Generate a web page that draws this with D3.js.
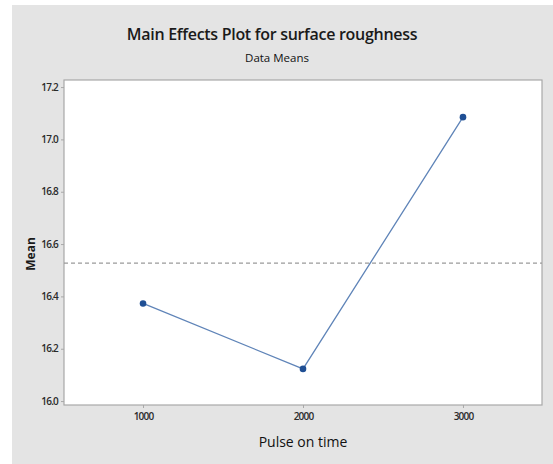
<!DOCTYPE html>
<html>
<head>
<meta charset="utf-8">
<script src="https://cdn.jsdelivr.net/npm/d3@7"></script>
<style>
  html, body { margin: 0; padding: 0; background: #ffffff; }
  svg { display: block; }
</style>
</head>
<body>
<div id="chart"></div>
<script>
// Main effects of pulse-on time on surface roughness (data means)
const levels = [1000, 2000, 3000];
const means = [16.373, 16.123, 17.085];
const yTicks = [16.0, 16.2, 16.4, 16.6, 16.8, 17.0, 17.2];
const xTicks = [1000, 2000, 3000];

const W = 553, H = 464;
const plot = { left: 64, top: 80, right: 542, bottom: 405 };

const svg = d3.select("#chart").append("svg")
  .attr("width", W).attr("height", H);

// panel background
svg.append("rect")
  .attr("x", 12).attr("y", 5)
  .attr("width", W - 12).attr("height", H - 5)
  .attr("fill", "#e4e4e4");

const x = d3.scaleLinear().domain([506, 3494]).range([plot.left, plot.right]);
const y = d3.scaleLinear().domain([15.985, 17.227]).range([plot.bottom, plot.top]);

// plotting area
svg.append("rect")
  .attr("x", plot.left).attr("y", plot.top)
  .attr("width", plot.right - plot.left).attr("height", plot.bottom - plot.top)
  .attr("fill", "#ffffff")
  .attr("stroke", "#a8a8a8").attr("stroke-width", 1.2);

// axes
const fmtY = d3.format(".1f");
const yAxis = svg.append("g")
  .attr("transform", `translate(${plot.left},0)`)
  .call(d3.axisLeft(y).tickValues(yTicks).tickFormat(fmtY).tickSize(3).tickPadding(3));
const xAxis = svg.append("g")
  .attr("transform", `translate(0,${plot.bottom})`)
  .call(d3.axisBottom(x).tickValues(xTicks).tickFormat(d3.format("d")).tickSize(3).tickPadding(5));

[yAxis, xAxis].forEach(g => {
  g.select(".domain").remove();
  g.selectAll(".tick line").attr("stroke", "#a8a8a8");
  g.selectAll(".tick text")
    .attr("fill", "#2a2a2a")
    .style("font-family", "'Open Sans', sans-serif")
    .style("font-size", "10px")
    .style("font-weight", "600")
    .style("letter-spacing", "-0.8px");
});

// overall mean reference line
const grandMean = d3.mean(means);
svg.append("line")
  .attr("x1", plot.left).attr("x2", plot.right)
  .attr("y1", y(grandMean)).attr("y2", y(grandMean))
  .attr("stroke", "#9a9a9a").attr("stroke-width", 1.2)
  .attr("stroke-dasharray", "4,3");

const pts = levels.map((l, i) => ({ l, m: means[i] }));

svg.append("path")
  .datum(pts)
  .attr("fill", "none")
  .attr("stroke", "#5f84b8")
  .attr("stroke-width", 1.3)
  .attr("d", d3.line().x(d => x(d.l)).y(d => y(d.m)));

svg.selectAll("circle.pt")
  .data(pts)
  .enter().append("circle")
  .attr("class", "pt")
  .attr("cx", d => x(d.l)).attr("cy", d => y(d.m))
  .attr("r", 3.3)
  .attr("fill", "#1f4f94");

// titles
svg.append("text")
  .attr("x", 272).attr("y", 40)
  .attr("text-anchor", "middle")
  .style("font-family", "'Open Sans', sans-serif")
  .style("font-size", "16px")
  .style("font-weight", "600")
  .style("letter-spacing", "-0.3px")
  .attr("fill", "#1a1a1a")
  .text("Main Effects Plot for surface roughness");

svg.append("text")
  .attr("x", 277).attr("y", 62)
  .attr("text-anchor", "middle")
  .style("font-family", "'Open Sans', sans-serif")
  .style("font-size", "11.5px")
  .attr("fill", "#111")
  .text("Data Means");

svg.append("text")
  .attr("x", 303).attr("y", 447)
  .attr("text-anchor", "middle")
  .style("font-family", "'Open Sans', sans-serif")
  .style("font-size", "14px")
  .attr("fill", "#111")
  .text("Pulse on time");

svg.append("text")
  .attr("transform", "translate(35,254) rotate(-90)")
  .attr("text-anchor", "middle")
  .style("font-family", "'Open Sans', sans-serif")
  .style("font-size", "12px")
  .style("font-weight", "bold")
  .attr("fill", "#1a1a1a")
  .text("Mean");
</script>
</body>
</html>
